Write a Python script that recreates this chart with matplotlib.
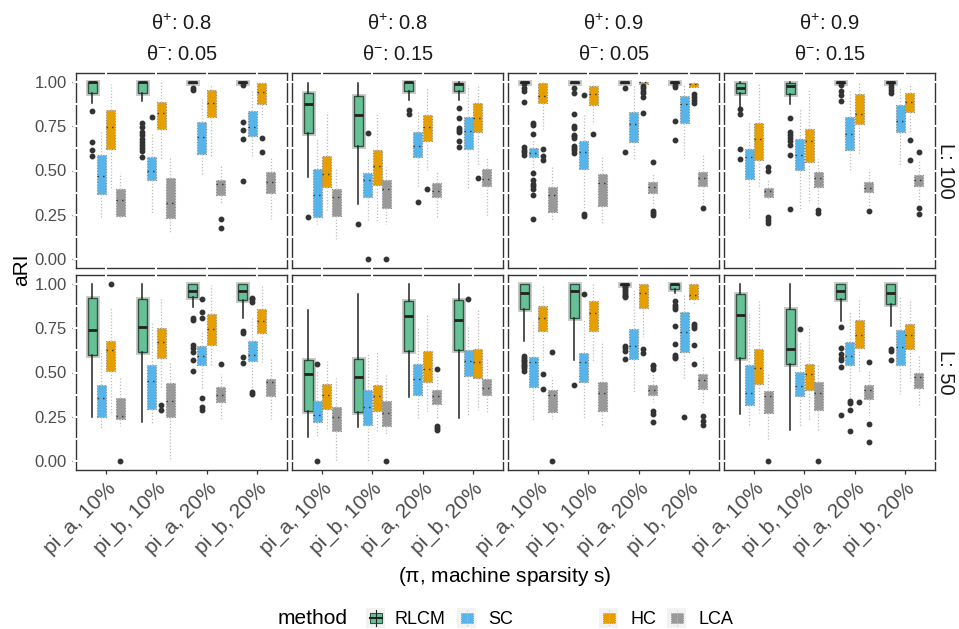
import numpy as np
import matplotlib
matplotlib.use("Agg")
import matplotlib.pyplot as plt
import matplotlib.patheffects as pe
from matplotlib.patches import Rectangle
from matplotlib.lines import Line2D

plt.rcParams["font.family"] = ["Liberation Sans", "DejaVu Sans"]
plt.rcParams["mathtext.fontset"] = "custom"
plt.rcParams["mathtext.rm"] = "Liberation Sans"
plt.rcParams["mathtext.it"] = "Liberation Sans:italic"

categories = ["pi_a, 10%", "pi_b, 10%", "pi_a, 20%", "pi_b, 20%"]
theta_pos = ["0.8", "0.8", "0.9", "0.9"]
theta_neg = ["0.05", "0.15", "0.05", "0.15"]
L_values = ["100", "50"]
methods = ["RLCM", "SC", "HC", "LCA"]
colors = ["#66C296", "#56B4E9", "#E69F00", "#999999"]

# Box statistics, one row per panel (L:100 panels first, then L:50), 4 categories each.
# RLCM
rlcm_lo = [.878, .893, .995, .995,  .464, .312, .90, .90,  .995, .995, .995, .995,  .86, .873, .995, .995,
           .248, .221, .867, .807,  .135, .191, .36, .244,  .675, .572, .995, .947,  .266, .178, .788, .76]
rlcm_q1 = [.938, .935, .995, .995,  .71, .636, .948, .95,  .995, .995, .995, .995,  .94, .929, .995, .995,
           .60, .615, .925, .91,  .281, .278, .619, .629,  .857, .81, .995, .97,  .582, .548, .914, .886]
rlcm_med = [1.0, .998, 1.0, 1.0,  .877, .815, 1.0, .987,  1.0, 1.0, 1.0, 1.0,  .968, .978, 1.0, 1.0,
            .741, .754, .962, .957,  .492, .473, .816, .794,  .951, .962, 1.0, 1.0,  .826, .634, .962, .951]
rlcm_q3 = [1.0, 1.0, 1.0, 1.0,  .94, .921, 1.0, .996,  1.0, 1.0, 1.0, 1.0,  .996, .996, 1.0, 1.0,
           .919, .914, 1.0, 1.0,  .572, .576, .904, .91,  1.0, 1.0, 1.0, 1.0,  .942, .857, 1.0, 1.0]
rlcm_hi = [1.0, 1.0, 1.0, 1.0,  .996, .996, 1.0, 1.0,  1.0, 1.0, 1.0, 1.0,  1.0, 1.0, 1.0, 1.0,
           1.0, 1.0, 1.0, 1.0,  .854, .944, 1.0, 1.0,  1.0, 1.0, 1.0, 1.0,  1.0, 1.0, 1.0, 1.0]
rlcm_out = [[.837, .658, .613, .579], [.766, .748, .72, .70, .68, .66, .645, .625, .61, .574],
            [.963, .955], [.98, .772, .729, .677, .441],
            [.237], [.2], [.841, .817], [.854, .798, .738, .729, .72, .667, .632],
            [.99, .963, .95, .884, .63, .617, .602, .589],
            [.968, .938, .819, .751, .738, .701, .692, .682, .636, .626, .613, .598],
            [.968, .607], [.981, .972, .779, .671],
            [.845, .817, .622, .566], [.798, .72, .70, .682, .664, .645, .589, .284],
            [.981, .95, .925, .893], [.99, .972, .953, .935],
            [], [], [.807, .797, .657, .638, .615, .572, .51], [.732, .722, .585, .553],
            [], [], [], [],
            [.591, .582, .572, .563, .553, .544, .535, .525, .51], [.432],
            [.99, .98, .97, .96, .95, .94, .93, .925, .647, .638, .623, .578],
            [.906, .882, .869, .857, .76, .66, .60, .59, .582],
            [], [], [.756, .638, .604, .582, .572, .529, .263], [.632, .619, .572]]

# SC
sc_lo = [.234, .252, .467, .57,  .2, .215, .402, .402,  .50, .29, .564, .57,  .234, .271, .49, .527,
         .188, .216, .40, .40,  .141, 0.0, .244, .259,  .229, .24, .39, .46,  .191, .191, .356, .379]
sc_q1 = [.368, .445, .594, .692,  .237, .351, .574, .62,  .574, .51, .658, .77,  .452, .505, .613, .72,
         .248, .295, .54, .567,  .22, .206, .371, .478,  .417, .447, .578, .613,  .315, .366, .544, .544]
sc_med = [.467, .499, .688, .748,  .364, .445, .637, .721,  .598, .607, .761, .873,  .576, .589, .707, .779,
          .356, .454, .595, .60,  .263, .306, .465, .563,  .559, .557, .647, .726,  .385, .422, .595, .644]
sc_q3 = [.589, .576, .772, .836,  .508, .486, .72, .80,  .626, .667, .828, .92,  .62, .679, .804, .869,
         .432, .544, .647, .679,  .341, .401, .55, .629,  .587, .61, .747, .84,  .544, .501, .672, .741]
sc_hi = [.729, .72, .907, .953,  .682, .57, .841, .981,  .67, .822, .981, .981,  .776, .845, .95, .968,
         .628, .779, .73, .807,  .507, .61, .754, .754,  .784, .803, .966, .938,  .844, .679, .844, .925]
sc_out = [[], [.80], [], [],
          [], [.71, 0.0], [.323], [],
          [.77, .757, .706, .486, .449, .424, .411, .393, .361, .226], [.925, .252, .243], [], [],
          [], [], [], [],
          [], [], [.914, .839, .81, .356, .304, .291], [.923, .914, .895, .388, .379],
          [.548, 0.0], [], [], [.914],
          [], [.942], [], [.251],
          [], [.745], [.338, .328, .287, .169], []]

# HC
hc_lo = [.402, .561, .583, .80,  .271, .215, .501, .523,  .733, .76, .99, .972,  .407, .318, .594, .71,
         .263, .413, .535, .559,  .169, .163, .281, .291,  .563, .563, .698, .88,  .272, .225, .497, .454]
hc_q1 = [.621, .735, .804, .875,  .407, .417, .664, .72,  .879, .869, .99, .972,  .557, .546, .763, .832,
         .507, .582, .657, .722,  .296, .281, .447, .469,  .732, .732, .863, .914,  .437, .401, .638, .632]
hc_med = [.744, .822, .882, .944,  .48, .523, .744, .798,  .921, .929, 1.0, .987,  .675, .667, .819, .888,
          .628, .67, .747, .788,  .375, .366, .518, .559,  .81, .835, .951, .938,  .525, .492, .713, .709]
hc_q3 = [.841, .888, .953, .996,  .583, .617, .813, .879,  .996, .976, 1.0, .996,  .766, .733, .931, .935,
         .679, .75, .829, .859,  .437, .432, .623, .634,  .876, .904, 1.0, 1.0,  .634, .55, .797, .773]
hc_hi = [.99, 1.0, .99, 1.0,  .832, .822, .963, .99,  1.0, 1.0, 1.0, 1.0,  .996, .953, .996, .99,
         .863, .919, .994, 1.0,  .563, .615, .826, .854,  1.0, 1.0, 1.0, 1.0,  .904, .76, .91, .916]
hc_out = [[], [], [], [.686, .602],
          [], [], [.398], [.458],
          [.622, .583, .561], [.706], [.976, .963, .95, .938, .912, .826], [.931, .916, .897, .882],
          [], [], [], [.673, .557],
          [1.0], [.319, .287], [], [],
          [], [], [], [],
          [.492, .409], [], [.632, .608], [.773, .76, .75, .657, .55],
          [], [], [.332], []]

# LCA
lca_lo = [.224, .15, .314, .228,  .116, .196, .239, .243,  .22, .206, .299, .308,  .34, .30, .30, .32,
          .197, 0.0, .235, .235,  0.0, .146, .237, .278,  .235, .197, .332, .323,  .122, .173, .259, .319]
lca_q1 = [.243, .23, .361, .374,  .243, .29, .351, .411,  .265, .299, .374, .411,  .351, .407, .378, .411,
          .238, .248, .334, .366,  .169, .2, .323, .371,  .276, .281, .375, .407,  .272, .287, .351, .413]
lca_med = [.336, .318, .422, .435,  .351, .398, .383, .454,  .359, .43, .407, .458,  .387, .458, .402, .449,
           .253, .341, .375, .447,  .25, .27, .37, .413,  .375, .385, .403, .46,  .366, .385, .40, .475]
lca_q3 = [.398, .458, .449, .493,  .398, .449, .43, .51,  .407, .482, .436, .492,  .402, .492, .436, .477,
          .356, .441, .418, .465,  .306, .338, .401, .465,  .401, .445, .432, .492,  .394, .445, .428, .497]
lca_hi = [.486, .579, .523, .57,  .514, .52, .50, .576,  .52, .576, .482, .589,  .45, .564, .51, .561,
          .469, .553, .49, .578,  .469, .488, .49, .578,  .475, .675, .507, .585,  .503, .544, .516, .597]
lca_out = [[], [], [.228, .174], [],
           [], [0.0], [], [],
           [], [], [.548, .271, .258, .249], [.29],
           [.52, .50, .237, .22, .206], [.28, .26], [.271], [.607, .29, .256],
           [0.0], [], [.55], [],
           [], [0.0], [.52, .197, .186, .178], [],
           [.613, 0.0], [], [.544, .535, .52, .281, .268, .221], [.257, .229, .203],
           [0.0], [0.0], [.557, .212, .109], []]

all_lo = [rlcm_lo, sc_lo, hc_lo, lca_lo]
all_q1 = [rlcm_q1, sc_q1, hc_q1, lca_q1]
all_med = [rlcm_med, sc_med, hc_med, lca_med]
all_q3 = [rlcm_q3, sc_q3, hc_q3, lca_q3]
all_hi = [rlcm_hi, sc_hi, hc_hi, lca_hi]
all_out = [rlcm_out, sc_out, hc_out, lca_out]

W, H = 959, 629
fig = plt.figure(figsize=(W / 100, H / 100), dpi=100)

def fx(px):
    return px / W

def fy(py):
    return 1 - py / H

offsets = [-0.28, -0.094, 0.094, 0.28]
col_left = [76, 292, 508, 724]
row_top = [73, 275]
pw, ph = 211, 195
dark = "#333333"
ticklab = "#4D4D4D"

for r in range(2):
    for c in range(4):
        ax = fig.add_axes([fx(col_left[c]), fy(row_top[r] + ph), pw / W, ph / H])
        p = r * 4 + c
        for m in range(4):
            stats = []
            for k in range(4):
                i = p * 4 + k
                stats.append(dict(med=all_med[m][i], q1=all_q1[m][i], q3=all_q3[m][i],
                                  whislo=all_lo[m][i], whishi=all_hi[m][i],
                                  fliers=all_out[m][i]))
            pos = [k + 1 + offsets[m] for k in range(4)]
            flier = dict(marker="o", markerfacecolor=dark, markeredgecolor=dark,
                         markersize=3.2, linestyle="none")
            if m == 0:
                ax.bxp(stats, positions=pos, widths=0.18, patch_artist=True, showcaps=False,
                       boxprops=dict(facecolor=colors[m], edgecolor="#2F5442", linewidth=1.0,
                                     path_effects=[pe.withStroke(linewidth=3.5, foreground="#C8C8C8")]),
                       medianprops=dict(color="#222222", linewidth=2.0),
                       whiskerprops=dict(color="#222222", linewidth=1.1),
                       flierprops=flier, manage_ticks=False)
            else:
                ax.bxp(stats, positions=pos, widths=0.18, patch_artist=True, showcaps=False,
                       boxprops=dict(facecolor=colors[m], edgecolor="#8C8C8C", linewidth=0.8,
                                     linestyle=(0, (1, 1.5))),
                       medianprops=dict(color="#333333", linewidth=1.0, linestyle=(0, (1, 3))),
                       whiskerprops=dict(color="#BDBDBD", linewidth=0.9, linestyle=(0, (1, 1.5))),
                       flierprops=flier, manage_ticks=False)

        ax.set_xlim(0.4, 4.6)
        ax.set_ylim(-0.05, 1.05)
        ax.set_xticks([1, 2, 3, 4])
        ax.set_yticks([0, 0.25, 0.5, 0.75, 1.0])
        for s in ax.spines.values():
            s.set_color(dark)
            s.set_linewidth(1.0)
        ax.tick_params(length=3, width=0.9, color=dark, labelcolor=ticklab)
        if c == 0:
            ax.set_yticklabels(["0.00", "0.25", "0.50", "0.75", "1.00"], fontsize=12)
        else:
            ax.tick_params(axis="y", left=False, labelleft=False)
        if r == 1:
            ax.set_xticklabels(categories, fontsize=15, rotation=45, ha="right",
                               va="top", rotation_mode="anchor")
        else:
            ax.tick_params(axis="x", bottom=False, labelbottom=False)

        # small breaks in the panel border where the (white) grid lines cross it
        xt = ax.get_xaxis_transform()
        yt = ax.get_yaxis_transform()
        for xv in [1, 2, 3, 4]:
            ax.add_line(Line2D([xv, xv], [0.985, 1.015], color="white", lw=1.5,
                               transform=xt, clip_on=False, zorder=10))
            if r == 0:
                ax.add_line(Line2D([xv, xv], [-0.015, 0.015], color="white", lw=1.5,
                                   transform=xt, clip_on=False, zorder=10))
        for yv in np.arange(0, 1.01, 0.125):
            for xa in ([-0.01, 0.01], [0.99, 1.01]):
                ax.add_line(Line2D(xa, [yv, yv], color="white", lw=1.5,
                                   transform=yt, clip_on=False, zorder=10))

        # facet strips
        if r == 0:
            cx = fx(col_left[c] + pw / 2)
            fig.text(cx, fy(24), r"$\mathrm{\theta}^{+}$: " + theta_pos[c], ha="center",
                     va="center", fontsize=14.5, color="#1A1A1A")
            fig.text(cx, fy(55), r"$\mathrm{\theta}^{-}$: " + theta_neg[c], ha="center",
                     va="center", fontsize=14.5, color="#1A1A1A")
        if c == 3:
            fig.text(fx(946), fy(row_top[r] + ph / 2), "L: " + L_values[r], rotation=-90,
                     ha="center", va="center", fontsize=14.5, color="#1A1A1A")

fig.text(fx(22), fy(270), "aRI", rotation=90, ha="center", va="center", fontsize=15)
fig.text(fx(505), fy(577), r"($\mathrm{\pi}$, machine sparsity s)", ha="center",
         va="center", fontsize=15)

# legend
fig.text(fx(278), fy(619), "method", ha="left", va="center", fontsize=15)
key_x = [366, 457, 599, 667]
lab_x = [395, 488, 630, 698]
for m in range(4):
    x0 = key_x[m]
    fig.add_artist(Rectangle((fx(x0), fy(628)), 19 / W, 20 / H, transform=fig.transFigure,
                             facecolor="#F2F2F2", edgecolor="none"))
    if m == 0:
        fig.add_artist(Line2D([fx(x0 + 9.5)] * 2, [fy(610), fy(626)], transform=fig.transFigure,
                              color="#222222", lw=0.8))
        fig.add_artist(Rectangle((fx(x0 + 3.5), fy(623)), 12 / W, 10 / H, transform=fig.transFigure,
                                 facecolor=colors[m], edgecolor="#2F5442", lw=0.8))
        fig.add_artist(Line2D([fx(x0 + 3.5), fx(x0 + 15.5)], [fy(618)] * 2,
                              transform=fig.transFigure, color="#222222", lw=1.5))
    else:
        fig.add_artist(Line2D([fx(x0 + 9.5)] * 2, [fy(610), fy(626)], transform=fig.transFigure,
                              color="#BDBDBD", lw=0.7, linestyle=(0, (1, 1.5))))
        fig.add_artist(Rectangle((fx(x0 + 3.5), fy(623)), 12 / W, 10 / H, transform=fig.transFigure,
                                 facecolor=colors[m], edgecolor="#8C8C8C", lw=0.6,
                                 linestyle=(0, (1, 1.5))))
    fig.text(fx(lab_x[m]), fy(619), methods[m], ha="left", va="center", fontsize=13)

fig.savefig("out.png", dpi=100)
